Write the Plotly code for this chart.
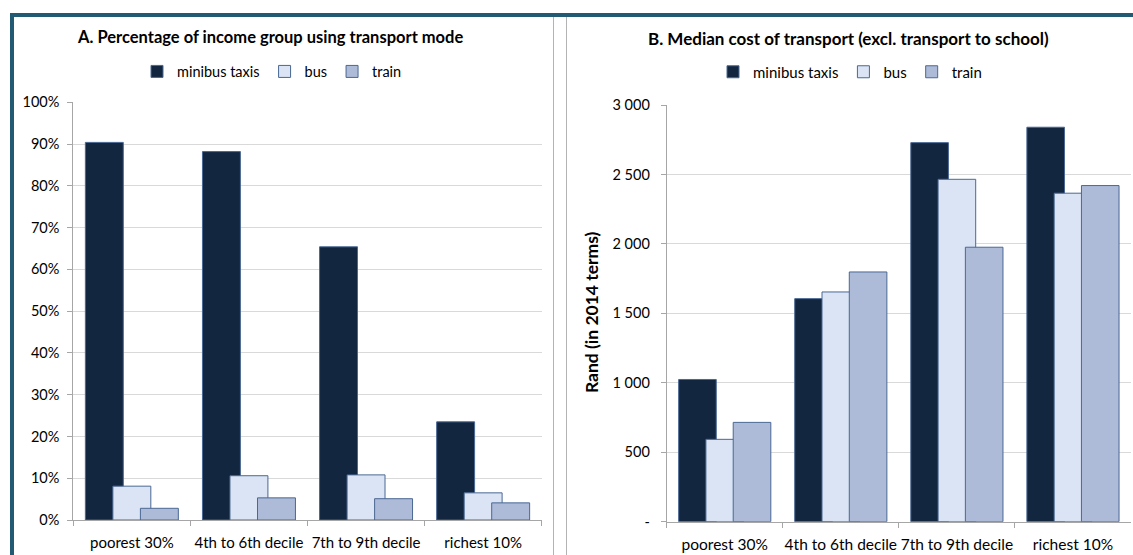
import plotly.graph_objects as go

# ---------------- data ----------------
categories = ["poorest 30%", "4th to 6th decile", "7th to 9th decile", "richest 10%"]
series_names = ["minibus taxis", "bus", "train"]

# Panel A: percentage of income group using transport mode
share_minibus = [90.4, 88.2, 65.4, 23.5]
share_bus = [8.1, 10.6, 10.8, 6.5]
share_train = [2.8, 5.3, 5.1, 4.1]

# Panel B: median cost of transport (Rand, 2014 terms)
cost_minibus = [1024, 1606, 2729, 2840]
cost_bus = [593, 1654, 2465, 2365]
cost_train = [715, 1798, 1976, 2420]

share_ticks = [0, 10, 20, 30, 40, 50, 60, 70, 80, 90, 100]
share_tick_labels = ["0%", "10%", "20%", "30%", "40%", "50%", "60%", "70%", "80%", "90%", "100%"]
cost_ticks = [0, 500, 1000, 1500, 2000, 2500, 3000]
cost_tick_labels = ["-", "500", "1 000", "1 500", "2 000", "2 500", "3 000"]

title_a = "A. Percentage of income group using transport mode"
title_b = "B. Median cost of transport (excl. transport to school)"
ytitle_b = "Rand (in 2014 terms)"

# ---------------- style ----------------
W, H = 1133, 555
FONT = "Lato"
colors = ["#13263f", "#dbe4f4", "#adbad8"]
edge = "#4a6893"
offsets = [-0.397, -0.162, 0.073]
bar_w = 0.324
grid = "#d9d9d9"
axis_c = "#a6a6a6"
teal = "#215a72"


def px(x):
    return x / W


def py(y):
    return (H - y) / H


fig = go.Figure()

share_series = [share_minibus, share_bus, share_train]
cost_series = [cost_minibus, cost_bus, cost_train]

for i, name in enumerate(series_names):
    fig.add_trace(go.Bar(
        x=categories, y=share_series[i], name=name,
        marker=dict(color=colors[i], line=dict(color=edge, width=1)),
        offset=offsets[i], width=bar_w,
        xaxis="x", yaxis="y", legend="legend", showlegend=True,
    ))
for i, name in enumerate(series_names):
    fig.add_trace(go.Bar(
        x=categories, y=cost_series[i], name=name,
        marker=dict(color=colors[i], line=dict(color=edge, width=1)),
        offset=offsets[i], width=bar_w,
        xaxis="x2", yaxis="y2", legend="legend2", showlegend=True,
    ))


def xax(size):
    return dict(type="category", tickson="boundaries", ticks="outside", ticklen=5,
                tickcolor=axis_c, showline=True, linecolor=axis_c, linewidth=1,
                showgrid=False, tickfont=dict(family=FONT, size=size, color="#000000"),
                fixedrange=True, ticklabelstandoff=9, tickangle=0, automargin=False)


def yax(size, standoff):
    return dict(showline=True, linecolor=axis_c, linewidth=1, ticks="outside", ticklen=5,
                tickcolor=axis_c, showgrid=True, gridcolor=grid, gridwidth=1,
                zeroline=False, tickfont=dict(family=FONT, size=size, color="#000000"),
                fixedrange=True, ticklabelstandoff=standoff, automargin=False)


fig.update_layout(
    width=W, height=H, autosize=False,
    margin=dict(l=0, r=0, t=0, b=0),
    paper_bgcolor="white", plot_bgcolor="white",
    barmode="overlay",
    font=dict(family=FONT, color="#000000"),
    xaxis=dict(domain=[px(73.3), px(541.7)], anchor="y", **xax(15)),
    yaxis=dict(domain=[py(520), py(102.3)], anchor="x", range=[0, 100],
               tickvals=share_ticks, ticktext=share_tick_labels, **yax(14.5, 5)),
    xaxis2=dict(domain=[px(666.7), px(1131)], anchor="y2", **xax(15.5)),
    yaxis2=dict(domain=[py(521.7), py(105)], anchor="x2", range=[0, 3000],
                tickvals=cost_ticks, ticktext=cost_tick_labels, **yax(14.5, 8)),
    legend=dict(orientation="h", x=px(272), xanchor="center", y=py(71.5), yanchor="middle",
                font=dict(family=FONT, size=14.5), itemwidth=30, traceorder="normal",
                bgcolor="rgba(0,0,0,0)"),
    legend2=dict(orientation="h", x=px(850), xanchor="center", y=py(72), yanchor="middle",
                 font=dict(family=FONT, size=15), itemwidth=30, traceorder="normal",
                 bgcolor="rgba(0,0,0,0)"),
    showlegend=True,
)

fig.add_annotation(text="<b>%s</b>" % title_a, x=px(270), y=py(37), xref="paper", yref="paper",
                   showarrow=False, font=dict(family=FONT, size=16.5), xanchor="center", yanchor="middle")
fig.add_annotation(text="<b>%s</b>" % title_b, x=px(848), y=py(39), xref="paper", yref="paper",
                   showarrow=False, font=dict(family=FONT, size=17), xanchor="center", yanchor="middle")
fig.add_annotation(text="<b>%s</b>" % ytitle_b, x=px(591), y=py(312), xref="paper", yref="paper",
                   showarrow=False, textangle=-90, font=dict(family=FONT, size=17.5),
                   xanchor="center", yanchor="middle")

# frame: teal border and grey panel separators
fig.add_shape(type="rect", xref="paper", yref="paper", x0=px(10), x1=1, y0=py(17), y1=py(13),
              fillcolor=teal, line=dict(width=0), layer="above")
fig.add_shape(type="rect", xref="paper", yref="paper", x0=px(10), x1=px(14), y0=0, y1=py(13),
              fillcolor=teal, line=dict(width=0), layer="above")
fig.add_shape(type="line", xref="paper", yref="paper", x0=px(553.5), x1=px(553.5), y0=0, y1=py(17),
              line=dict(color="#b3b3b3", width=1))
fig.add_shape(type="line", xref="paper", yref="paper", x0=px(566.5), x1=px(566.5), y0=0, y1=py(17),
              line=dict(color="#b3b3b3", width=1))

css_js = (
    "var s=document.createElement('style');"
    "s.textContent='html,body{margin:0!important;padding:0!important;overflow:hidden;"
    "width:1133px;height:555px;}';"
    "document.head.appendChild(s);"
)

fig.write_html("out.html",
               config={"displayModeBar": False},
               post_script=css_js)
